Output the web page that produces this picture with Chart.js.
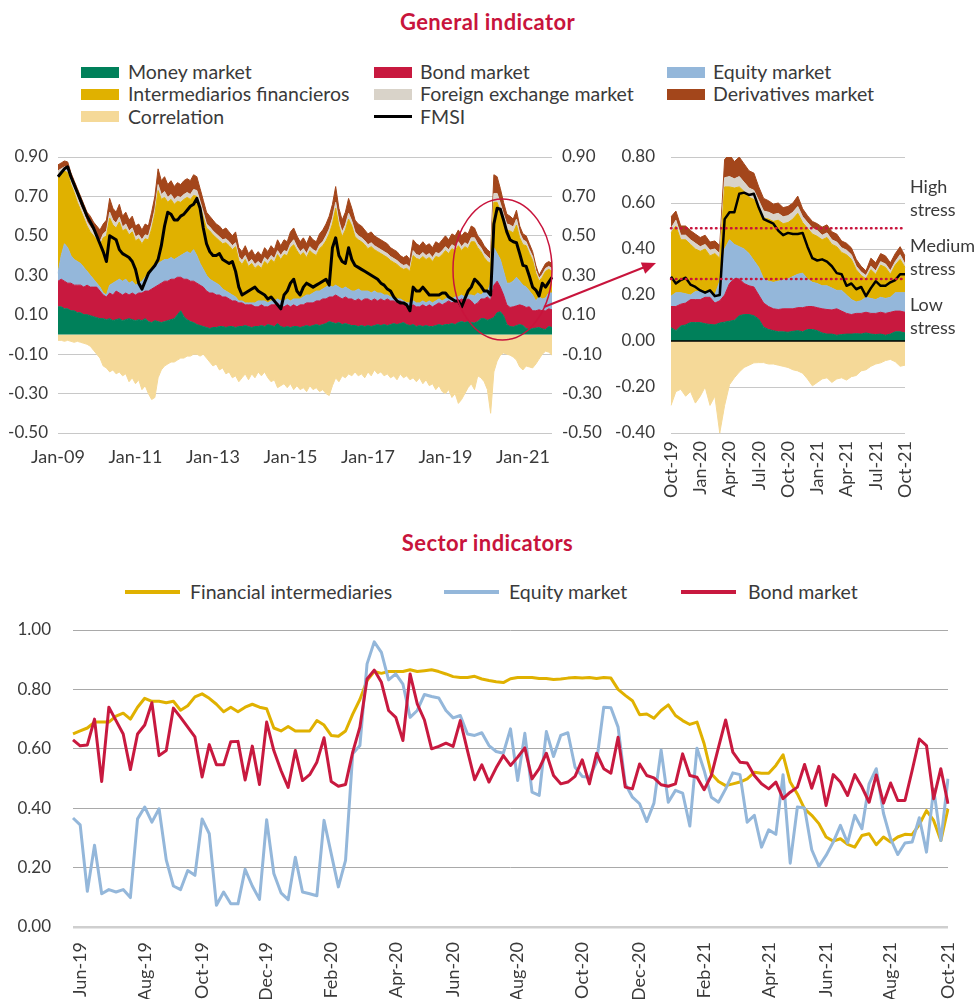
<!DOCTYPE html>
<html>
<head>
<meta charset="utf-8">
<script src="https://cdn.jsdelivr.net/npm/chart.js@4.4.1/dist/chart.umd.min.js"></script>
<style>
  html, body { margin:0; padding:0; background:#ffffff; }
  body { position:relative; width:975px; height:999px; overflow:hidden; font-family: Lato, "Noto Sans", sans-serif; color:#3a3a3a; }
  .title { position:absolute; left:0; width:975px; text-align:center; font-weight:700; font-size:22px; letter-spacing:0.4px; line-height:26px; color:#C8143C; }
  .leg { position:absolute; font-size:19.5px; line-height:22px; white-space:nowrap; color:#3a3a3a; }
  .sw { position:absolute; width:38px; height:11px; }
  .ln { position:absolute; height:3px; }
  .note { position:absolute; font-size:18px; line-height:22.5px; color:#3a3a3a; white-space:nowrap; }
  canvas { position:absolute; }
  svg { position:absolute; left:0; top:0; pointer-events:none; }
</style>
</head>
<body>
<div class="title" style="top:9px">General indicator</div>
<div class="sw" style="left:81px;top:67px;background:#00805A"></div><div class="leg" style="left:128px;top:61px">Money market</div>
<div class="sw" style="left:374px;top:67px;background:#C8193F"></div><div class="leg" style="left:420px;top:61px">Bond market</div>
<div class="sw" style="left:667px;top:67px;background:#94B7DA"></div><div class="leg" style="left:713px;top:61px">Equity market</div>
<div class="sw" style="left:81px;top:89px;background:#E0B100"></div><div class="leg" style="left:128px;top:83px">Intermediarios financieros</div>
<div class="sw" style="left:374px;top:89px;background:#D9D3C9"></div><div class="leg" style="left:420px;top:83px">Foreign exchange market</div>
<div class="sw" style="left:667px;top:89px;background:#A3461B"></div><div class="leg" style="left:713px;top:83px">Derivatives market</div>
<div class="sw" style="left:81px;top:111px;background:#F5D998"></div><div class="leg" style="left:128px;top:106px">Correlation</div>
<div class="ln" style="left:374px;top:115px;width:38px;background:#000"></div><div class="leg" style="left:420px;top:106px">FMSI</div>

<canvas id="cGeneral" width="610" height="340" style="left:0px;top:140px"></canvas>
<canvas id="cZoom" width="320" height="370" style="left:610px;top:140px"></canvas>

<div class="note" style="left:910px;top:175px">High<br>stress</div>
<div class="note" style="left:910px;top:234px">Medium<br>stress</div>
<div class="note" style="left:910px;top:293px">Low<br>stress</div>

<div class="title" style="top:530px">Sector indicators</div>
<div class="ln" style="left:125px;top:590px;width:55px;height:3.5px;background:#E0B100"></div><div class="leg" style="left:190px;top:581px">Financial intermediaries</div>
<div class="ln" style="left:444px;top:590px;width:55px;height:3.5px;background:#94B7DA"></div><div class="leg" style="left:509px;top:581px">Equity market</div>
<div class="ln" style="left:681px;top:590px;width:55px;height:3.5px;background:#C8193F"></div><div class="leg" style="left:748px;top:581px">Bond market</div>

<canvas id="cSector" width="975" height="384" style="left:0px;top:615px"></canvas>

<svg width="975" height="999" viewBox="0 0 975 999">
  <ellipse cx="502.5" cy="269.5" rx="49.5" ry="70.5" fill="none" stroke="#C8143C" stroke-width="1.5"/>
  <line x1="544" y1="307" x2="646" y2="266.5" stroke="#C8143C" stroke-width="2"/>
  <polygon points="656,263 645.2,273.8 640.8,262.6" fill="#C8143C"/>
</svg>

<script>
// ---------------- General indicator (monthly, Jan-09 .. Oct-21) ----------------
const generalXTicks = ['Jan-09','Jan-11','Jan-13','Jan-15','Jan-17','Jan-19','Jan-21'];
const generalYTicks = [-0.5,-0.3,-0.1,0.1,0.3,0.5,0.7,0.9];

const moneyMarket = [
0.14,0.14,0.13,0.13,0.12,0.12,0.11,0.11,0.10,0.10,
0.095,0.09,0.085,0.08,0.08,0.075,0.08,0.07,0.075,0.08,
0.07,0.075,0.08,0.075,0.07,0.075,0.07,0.08,0.065,0.06,
0.07,0.065,0.06,0.065,0.07,0.075,0.08,0.10,0.12,0.09,
0.075,0.065,0.06,0.05,0.045,0.04,0.035,0.03,0.035,0.035,
0.04,0.04,0.035,0.04,0.04,0.035,0.04,0.04,0.045,0.04,
0.035,0.04,0.04,0.045,0.04,0.05,0.045,0.04,0.055,0.04,
0.035,0.04,0.035,0.04,0.04,0.035,0.04,0.045,0.04,0.045,
0.05,0.045,0.05,0.055,0.065,0.06,0.055,0.06,0.05,0.055,
0.05,0.045,0.045,0.04,0.045,0.04,0.045,0.04,0.045,0.05,
0.045,0.05,0.045,0.05,0.055,0.05,0.055,0.06,0.05,0.045,
0.05,0.04,0.045,0.04,0.045,0.04,0.04,0.045,0.05,0.045,
0.05,0.05,0.055,0.05,0.06,0.065,0.06,0.065,0.06,0.058,
0.065,0.08,0.08,0.072,0.078,0.086,0.11,0.115,0.095,0.05,
0.04,0.038,0.045,0.05,0.045,0.03,0.025,0.03,0.032,0.035,
0.028,0.025,0.04,0.035];

const bondMarket = [
0.13,0.14,0.14,0.13,0.14,0.13,0.14,0.14,0.14,0.15,
0.145,0.15,0.155,0.14,0.12,0.115,0.13,0.13,0.145,0.13,
0.13,0.135,0.12,0.135,0.13,0.135,0.14,0.14,0.155,0.17,
0.17,0.185,0.20,0.205,0.20,0.205,0.20,0.19,0.17,0.19,
0.205,0.205,0.21,0.21,0.205,0.20,0.185,0.18,0.175,0.165,
0.16,0.15,0.155,0.14,0.13,0.135,0.12,0.12,0.105,0.11,
0.115,0.10,0.10,0.105,0.10,0.09,0.105,0.11,0.105,0.10,
0.105,0.11,0.105,0.11,0.10,0.115,0.11,0.115,0.12,0.115,
0.12,0.125,0.13,0.125,0.125,0.13,0.145,0.13,0.13,0.135,
0.13,0.135,0.125,0.14,0.125,0.14,0.135,0.13,0.135,0.12,
0.135,0.12,0.135,0.12,0.115,0.11,0.115,0.10,0.10,0.095,
0.10,0.10,0.095,0.11,0.095,0.11,0.10,0.105,0.11,0.105,
0.11,0.12,0.105,0.12,0.11,0.115,0.11,0.115,0.11,0.092,
0.095,0.10,0.10,0.118,0.097,0.164,0.16,0.125,0.105,0.10,
0.097,0.102,0.10,0.10,0.10,0.107,0.115,0.09,0.088,0.09,
0.092,0.095,0.09,0.09];

const equityMarket = [
0.04,0.12,0.19,0.18,0.14,0.13,0.12,0.11,0.10,0.07,
0.06,0.04,0.02,0.02,0.01,0.01,0.04,0.06,0.05,0.07,
0.07,0.07,0.06,0.06,0.05,0.05,0.06,0.07,0.09,0.10,
0.10,0.11,0.11,0.11,0.11,0.11,0.10,0.10,0.11,0.13,
0.14,0.14,0.16,0.14,0.11,0.09,0.08,0.07,0.06,0.06,
0.05,0.04,0.03,0.03,0.03,0.02,0.01,0.01,0.01,0.01,
0.01,0.02,0.03,0.02,0.03,0.02,0.02,0.02,0.02,0.03,
0.03,0.03,0.03,0.03,0.04,0.03,0.04,0.04,0.04,0.05,
0.05,0.05,0.05,0.06,0.06,0.05,0.05,0.05,0.05,0.05,
0.05,0.04,0.05,0.05,0.05,0.04,0.04,0.04,0.04,0.04,
0.03,0.03,0.02,0.02,0.02,0.02,0.01,0.01,0.01,0.02,
0.02,0.02,0.02,0.02,0.02,0.02,0.02,0.02,0.02,0.02,
0.02,0.02,0.02,0.02,0.02,0.02,0.02,0.02,0.03,0.045,
0.05,0.02,0.036,0.025,0.085,0.19,0.14,0.14,0.12,0.11,
0.123,0.13,0.145,0.12,0.105,0.103,0.08,0.08,0.05,0.065,
0.06,0.065,0.08,0.085];

const intermediaries = [
0.50,0.42,0.37,0.38,0.36,0.34,0.30,0.27,0.25,0.23,
0.22,0.22,0.22,0.21,0.28,0.30,0.34,0.295,0.27,0.29,
0.255,0.255,0.245,0.25,0.225,0.225,0.19,0.195,0.17,0.205,
0.27,0.37,0.315,0.315,0.29,0.295,0.28,0.285,0.27,0.275,
0.275,0.275,0.275,0.30,0.29,0.265,0.24,0.245,0.235,0.23,
0.225,0.23,0.245,0.24,0.23,0.255,0.205,0.185,0.22,0.185,
0.20,0.175,0.18,0.165,0.20,0.195,0.21,0.195,0.225,0.21,
0.235,0.22,0.27,0.275,0.245,0.22,0.225,0.19,0.225,0.20,
0.18,0.215,0.22,0.235,0.26,0.32,0.39,0.31,0.265,0.29,
0.355,0.33,0.275,0.25,0.25,0.235,0.215,0.235,0.21,0.21,
0.20,0.20,0.19,0.185,0.175,0.175,0.16,0.16,0.175,0.16,
0.23,0.225,0.22,0.225,0.22,0.22,0.21,0.225,0.21,0.235,
0.245,0.22,0.255,0.235,0.26,0.225,0.255,0.235,0.27,0.275,
0.23,0.22,0.174,0.155,0.10,0.23,0.26,0.245,0.255,0.27,
0.265,0.245,0.265,0.22,0.205,0.21,0.19,0.175,0.14,0.08,
0.11,0.135,0.12,0.11];

const foreignExchange = [
0.02,0.02,0.02,0.02,0.02,0.02,0.025,0.02,0.025,0.02,
0.025,0.02,0.02,0.02,0.02,0.025,0.03,0.025,0.025,0.025,
0.02,0.025,0.02,0.02,0.02,0.02,0.02,0.02,0.02,0.025,
0.025,0.03,0.025,0.03,0.025,0.025,0.025,0.025,0.025,0.025,
0.025,0.025,0.03,0.03,0.025,0.025,0.02,0.02,0.02,0.02,
0.02,0.02,0.02,0.02,0.02,0.02,0.02,0.02,0.02,0.02,
0.02,0.02,0.02,0.02,0.02,0.02,0.02,0.02,0.02,0.02,
0.02,0.02,0.02,0.025,0.02,0.02,0.02,0.02,0.02,0.02,
0.02,0.02,0.02,0.025,0.025,0.03,0.03,0.025,0.025,0.025,
0.03,0.025,0.025,0.02,0.02,0.02,0.02,0.02,0.02,0.02,
0.02,0.02,0.02,0.02,0.02,0.02,0.02,0.02,0.02,0.02,
0.025,0.02,0.02,0.02,0.02,0.02,0.02,0.02,0.02,0.02,
0.02,0.02,0.02,0.02,0.02,0.02,0.02,0.02,0.02,0.02,
0.02,0.02,0.02,0.025,0.02,0.045,0.045,0.04,0.035,0.03,
0.03,0.03,0.03,0.025,0.025,0.02,0.02,0.02,0.015,0.015,
0.015,0.015,0.015,0.015];

const derivatives = [
0.03,0.03,0.03,0.035,0.04,0.04,0.045,0.05,0.045,0.05,
0.055,0.05,0.05,0.06,0.05,0.055,0.07,0.06,0.055,0.065,
0.055,0.06,0.055,0.06,0.055,0.055,0.05,0.055,0.05,0.06,
0.065,0.08,0.07,0.075,0.065,0.07,0.065,0.07,0.065,0.07,
0.07,0.07,0.075,0.07,0.065,0.06,0.06,0.055,0.055,0.05,
0.055,0.05,0.055,0.05,0.05,0.055,0.045,0.045,0.05,0.045,
0.05,0.045,0.05,0.045,0.05,0.045,0.05,0.045,0.055,0.05,
0.055,0.05,0.06,0.06,0.055,0.05,0.055,0.05,0.055,0.05,
0.05,0.055,0.06,0.06,0.065,0.07,0.08,0.065,0.06,0.065,
0.075,0.065,0.06,0.06,0.06,0.055,0.055,0.055,0.05,0.05,
0.05,0.05,0.05,0.045,0.045,0.045,0.04,0.04,0.045,0.04,
0.055,0.055,0.05,0.055,0.05,0.05,0.05,0.055,0.05,0.055,
0.055,0.05,0.055,0.055,0.06,0.055,0.055,0.055,0.06,0.05,
0.04,0.04,0.04,0.035,0.035,0.095,0.085,0.075,0.06,0.05,
0.045,0.04,0.045,0.035,0.03,0.03,0.03,0.025,0.025,0.015,
0.025,0.025,0.025,0.025];

const correlation = [
-0.03,-0.03,-0.035,-0.03,-0.035,-0.04,-0.035,-0.04,-0.045,-0.05,
-0.06,-0.08,-0.10,-0.12,-0.16,-0.17,-0.19,-0.18,-0.20,-0.19,
-0.21,-0.20,-0.24,-0.22,-0.25,-0.23,-0.28,-0.26,-0.30,-0.33,
-0.32,-0.22,-0.18,-0.16,-0.15,-0.14,-0.14,-0.13,-0.12,-0.12,
-0.11,-0.11,-0.10,-0.10,-0.11,-0.10,-0.12,-0.14,-0.16,-0.15,
-0.18,-0.17,-0.20,-0.19,-0.22,-0.21,-0.24,-0.22,-0.20,-0.23,
-0.20,-0.22,-0.19,-0.21,-0.19,-0.22,-0.24,-0.23,-0.27,-0.26,
-0.25,-0.27,-0.25,-0.28,-0.26,-0.28,-0.27,-0.29,-0.26,-0.28,
-0.27,-0.29,-0.28,-0.30,-0.31,-0.26,-0.22,-0.24,-0.21,-0.22,
-0.20,-0.21,-0.19,-0.21,-0.20,-0.22,-0.19,-0.21,-0.18,-0.20,
-0.19,-0.21,-0.20,-0.22,-0.21,-0.23,-0.20,-0.22,-0.21,-0.23,
-0.22,-0.24,-0.22,-0.25,-0.23,-0.26,-0.25,-0.28,-0.26,-0.29,
-0.30,-0.28,-0.32,-0.30,-0.35,-0.33,-0.30,-0.27,-0.25,-0.28,
-0.21,-0.22,-0.24,-0.28,-0.40,-0.19,-0.135,-0.105,-0.094,-0.10,
-0.105,-0.115,-0.13,-0.165,-0.18,-0.16,-0.165,-0.17,-0.15,-0.125,
-0.10,-0.085,-0.09,-0.105];

const fmsi = [
0.80,0.82,0.84,0.85,0.80,0.76,0.72,0.68,0.64,0.60,
0.57,0.54,0.50,0.46,0.42,0.37,0.50,0.49,0.48,0.43,
0.41,0.40,0.39,0.37,0.33,0.26,0.23,0.27,0.31,0.33,
0.35,0.38,0.45,0.55,0.62,0.61,0.58,0.58,0.60,0.61,
0.63,0.65,0.66,0.69,0.64,0.54,0.46,0.42,0.40,0.40,
0.41,0.38,0.37,0.36,0.37,0.32,0.24,0.20,0.21,0.22,
0.23,0.24,0.22,0.21,0.20,0.18,0.19,0.17,0.15,0.13,
0.20,0.22,0.26,0.28,0.22,0.20,0.24,0.26,0.25,0.24,
0.25,0.26,0.27,0.28,0.25,0.44,0.49,0.40,0.37,0.36,
0.44,0.38,0.35,0.34,0.33,0.32,0.31,0.30,0.29,0.28,
0.26,0.25,0.23,0.22,0.19,0.17,0.16,0.16,0.15,0.12,
0.24,0.22,0.22,0.24,0.22,0.20,0.20,0.20,0.20,0.21,
0.21,0.19,0.18,0.17,0.17,0.14,0.18,0.22,0.24,0.28,
0.265,0.245,0.22,0.22,0.20,0.56,0.64,0.635,0.58,0.52,
0.48,0.47,0.465,0.41,0.35,0.345,0.295,0.24,0.225,0.195,
0.26,0.24,0.265,0.29];

// ---------------- Zoom Oct-19 .. Oct-21 (half-monthly) ----------------
const zoomXTicks = ['Oct-19','Jan-20','Apr-20','Jul-20','Oct-20','Jan-21','Apr-21','Jul-21','Oct-21'];
const zoomYTicks = [-0.4,-0.2,0,0.2,0.4,0.6,0.8];
const stressThresholds = [0.27, 0.49];

const zMoney = [0.058,0.045,0.065,0.07,0.08,0.08,0.08,0.075,0.072,0.07,0.078,0.082,0.086,0.09,0.11,0.115,0.115,0.11,0.095,0.06,0.05,0.045,0.04,0.04,0.038,0.042,0.045,0.04,0.05,0.05,0.045,0.035,0.03,0.03,0.025,0.028,0.03,0.03,0.032,0.03,0.035,0.03,0.028,0.03,0.025,0.03,0.04,0.04,0.035];
const zBond = [0.092,0.105,0.095,0.095,0.10,0.10,0.10,0.115,0.118,0.095,0.097,0.118,0.164,0.18,0.16,0.135,0.125,0.125,0.105,0.105,0.10,0.095,0.097,0.10,0.102,0.098,0.10,0.105,0.10,0.10,0.10,0.105,0.107,0.105,0.115,0.102,0.09,0.085,0.088,0.09,0.09,0.09,0.092,0.095,0.095,0.095,0.09,0.09,0.09];
const zEquity = [0.045,0.06,0.05,0.04,0.02,0.035,0.036,0.025,0.025,0.035,0.085,0.20,0.19,0.15,0.14,0.15,0.14,0.115,0.12,0.105,0.11,0.115,0.123,0.125,0.13,0.14,0.145,0.15,0.12,0.105,0.105,0.10,0.103,0.095,0.08,0.09,0.08,0.065,0.05,0.055,0.065,0.065,0.06,0.065,0.065,0.065,0.08,0.08,0.085];
const zInter = [0.275,0.29,0.23,0.235,0.22,0.185,0.174,0.185,0.155,0.18,0.10,0.27,0.23,0.245,0.26,0.25,0.245,0.265,0.255,0.265,0.27,0.265,0.265,0.245,0.245,0.25,0.265,0.22,0.22,0.21,0.205,0.20,0.21,0.19,0.19,0.165,0.175,0.175,0.14,0.11,0.08,0.125,0.11,0.14,0.135,0.10,0.12,0.145,0.11];
const zFX = [0.02,0.025,0.02,0.02,0.02,0.025,0.02,0.02,0.025,0.02,0.02,0.04,0.045,0.04,0.045,0.04,0.04,0.04,0.035,0.03,0.03,0.03,0.03,0.03,0.03,0.03,0.03,0.025,0.025,0.025,0.025,0.02,0.02,0.02,0.02,0.02,0.02,0.02,0.015,0.015,0.015,0.015,0.015,0.015,0.015,0.015,0.015,0.02,0.015];
const zDeriv = [0.05,0.04,0.04,0.04,0.04,0.04,0.04,0.04,0.035,0.035,0.035,0.08,0.095,0.075,0.085,0.08,0.075,0.075,0.06,0.055,0.05,0.045,0.045,0.04,0.04,0.04,0.045,0.035,0.03,0.03,0.03,0.035,0.035,0.035,0.035,0.03,0.03,0.03,0.03,0.025,0.02,0.035,0.035,0.035,0.035,0.035,0.035,0.035,0.035];
const zCorr = [-0.28,-0.22,-0.21,-0.24,-0.22,-0.27,-0.24,-0.20,-0.28,-0.24,-0.40,-0.28,-0.19,-0.16,-0.135,-0.115,-0.105,-0.095,-0.094,-0.094,-0.10,-0.10,-0.105,-0.11,-0.115,-0.125,-0.13,-0.14,-0.165,-0.195,-0.18,-0.165,-0.16,-0.18,-0.165,-0.16,-0.17,-0.155,-0.15,-0.13,-0.125,-0.11,-0.10,-0.095,-0.085,-0.08,-0.09,-0.11,-0.105];
const zFMSI = [0.28,0.25,0.265,0.275,0.245,0.235,0.22,0.21,0.22,0.195,0.20,0.53,0.56,0.56,0.64,0.645,0.635,0.64,0.58,0.53,0.52,0.51,0.48,0.46,0.47,0.465,0.465,0.47,0.41,0.36,0.35,0.355,0.345,0.325,0.295,0.29,0.24,0.25,0.225,0.235,0.195,0.23,0.26,0.24,0.24,0.255,0.265,0.29,0.29];

// ---------------- Sector indicators (weekly) ----------------
const sectorXTicks = ['Jun-19','Aug-19','Oct-19','Dec-19','Feb-20','Apr-20','Jun-20','Aug-20','Oct-20','Dec-20','Feb-21','Apr-21','Jun-21','Aug-21','Oct-21'];
const sectorYTicks = [0,0.2,0.4,0.6,0.8,1.0];

const sectorFinancial = [
0.65,0.66,0.67,0.69,0.69,0.69,0.71,0.72,0.70,0.74,
0.77,0.76,0.76,0.755,0.76,0.73,0.745,0.775,0.785,0.77,
0.75,0.725,0.74,0.725,0.74,0.75,0.74,0.735,0.67,0.66,
0.675,0.66,0.66,0.66,0.695,0.68,0.645,0.642,0.66,0.717,
0.766,0.83,0.86,0.854,0.86,0.86,0.86,0.866,0.86,0.863,
0.866,0.86,0.852,0.843,0.84,0.84,0.844,0.835,0.83,0.826,
0.823,0.836,0.84,0.84,0.84,0.837,0.837,0.833,0.835,0.838,
0.84,0.838,0.84,0.837,0.84,0.838,0.80,0.78,0.762,0.715,
0.717,0.703,0.729,0.748,0.712,0.695,0.682,0.69,0.617,0.516,
0.49,0.476,0.482,0.488,0.499,0.521,0.518,0.518,0.544,0.58,
0.488,0.448,0.398,0.376,0.348,0.303,0.289,0.297,0.278,0.269,
0.308,0.314,0.277,0.303,0.286,0.303,0.312,0.311,0.345,0.392,
0.359,0.291,0.398];

const sectorEquity = [
0.367,0.344,0.12,0.275,0.112,0.126,0.118,0.126,0.099,0.364,
0.404,0.353,0.398,0.226,0.138,0.126,0.19,0.174,0.364,0.314,
0.073,0.118,0.078,0.078,0.194,0.138,0.093,0.361,0.18,0.115,
0.092,0.235,0.118,0.112,0.105,0.359,0.247,0.135,0.224,0.583,
0.611,0.886,0.96,0.925,0.832,0.852,0.818,0.706,0.729,0.783,
0.776,0.771,0.729,0.704,0.712,0.65,0.645,0.654,0.611,0.591,
0.585,0.667,0.493,0.652,0.454,0.443,0.658,0.574,0.645,0.654,
0.538,0.507,0.504,0.555,0.74,0.738,0.673,0.482,0.437,0.415,
0.355,0.417,0.596,0.42,0.46,0.451,0.34,0.602,0.527,0.437,
0.42,0.465,0.519,0.513,0.353,0.376,0.269,0.327,0.312,0.513,
0.215,0.404,0.401,0.26,0.204,0.241,0.286,0.342,0.283,0.376,
0.331,0.482,0.533,0.383,0.297,0.244,0.283,0.286,0.368,0.252,
0.465,0.291,0.499];

const sectorBond = [
0.63,0.61,0.613,0.70,0.49,0.74,0.695,0.65,0.53,0.65,
0.68,0.755,0.577,0.594,0.737,0.706,0.673,0.64,0.505,0.614,
0.546,0.546,0.624,0.625,0.495,0.609,0.48,0.69,0.594,0.527,
0.47,0.594,0.493,0.513,0.555,0.637,0.49,0.474,0.48,0.589,
0.673,0.835,0.865,0.824,0.729,0.706,0.628,0.852,0.751,0.697,
0.60,0.608,0.619,0.608,0.695,0.594,0.496,0.546,0.488,0.536,
0.577,0.544,0.572,0.603,0.499,0.533,0.585,0.51,0.482,0.488,
0.507,0.563,0.482,0.585,0.533,0.518,0.639,0.471,0.465,0.549,
0.51,0.502,0.479,0.474,0.482,0.583,0.51,0.504,0.462,0.51,
0.605,0.697,0.589,0.555,0.552,0.51,0.482,0.465,0.488,0.432,
0.454,0.471,0.547,0.467,0.541,0.409,0.513,0.488,0.443,0.513,
0.471,0.42,0.512,0.417,0.485,0.426,0.426,0.527,0.633,0.611,
0.432,0.533,0.415];

// ---------------- categories ----------------
const MON = ['Jan','Feb','Mar','Apr','May','Jun','Jul','Aug','Sep','Oct','Nov','Dec'];
const monLabel = (y, m) => MON[m] + '-' + String(y % 100).padStart(2, '0');

const generalMonths = moneyMarket.map((_, i) => monLabel(2009 + Math.floor(i / 12), i % 12));
const zoomDates = zMoney.map((_, j) => {
  const k = 9 + Math.floor(j / 2);
  const lbl = monLabel(2019 + Math.floor(k / 12), k % 12);
  return j % 2 === 0 ? lbl : 'mid ' + lbl;
});
const DAY = 86400000;
const sectorStart = Date.UTC(2019, 4, 25);
const sectorWeeks = sectorFinancial.map((_, i) => new Date(sectorStart + i * 7 * DAY).toISOString().slice(0, 10));
const sectorTickAt = {};
sectorXTicks.forEach(lbl => {
  const m = MON.indexOf(lbl.slice(0, 3)), y = 2000 + parseInt(lbl.slice(4), 10);
  const target = Date.UTC(y, m, 1);
  let best = 0, bd = Infinity;
  sectorWeeks.forEach((d, i) => { const dd = Math.abs(Date.parse(d) - target); if (dd < bd) { bd = dd; best = i; } });
  sectorTickAt[best] = lbl;
});

// ---------------- Chart setup ----------------
const FONT = 'Lato, "Noto Sans", sans-serif';
Chart.defaults.font.family = FONT;
Chart.defaults.font.size = 17;
Chart.defaults.color = '#3a3a3a';

const C = {
  money:'#00805A', bond:'#C8193F', equity:'#94B7DA', inter:'#E0B100',
  fx:'#D9D3C9', deriv:'#A3461B', corr:'#F5D998', fmsi:'#000000', crimson:'#C8143C'
};

function area(label, data, color, fill) {
  return { label, data, stack:'components', fill, backgroundColor:color, borderColor:color,
           borderWidth:1, pointRadius:0, tension:0 };
}
const fmt2 = v => Number(v).toFixed(2);
// fix axis box sizes and drop automatic label-overflow padding
const fixBox = (w, h) => s => {
  if (w !== null) s.width = w;
  if (h !== null) s.height = h;
  s.paddingTop = 0; s.paddingBottom = 0; s.paddingLeft = 0; s.paddingRight = 0;
};
const baseOpts = {
  responsive:false, animation:false, devicePixelRatio:1,
  plugins:{ legend:{display:false}, tooltip:{enabled:false} },
  elements:{ line:{ borderJoinStyle:'round' } }
};
const xFont = { family:FONT, size:18 };

// General indicator
new Chart(document.getElementById('cGeneral'), {
  type:'line',
  data:{ labels: generalMonths, datasets:[
    area('Money market', moneyMarket, C.money, 'origin'),
    area('Bond market', bondMarket, C.bond, '-1'),
    area('Equity market', equityMarket, C.equity, '-1'),
    area('Intermediarios financieros', intermediaries, C.inter, '-1'),
    area('Foreign exchange market', foreignExchange, C.fx, '-1'),
    area('Derivatives market', derivatives, C.deriv, '-1'),
    { label:'Correlation', data:correlation, stack:'corr', fill:'origin', backgroundColor:C.corr, borderColor:C.corr, borderWidth:1, pointRadius:0, tension:0 },
    { label:'FMSI', data:fmsi, stack:'fmsi', fill:false, borderColor:C.fmsi, borderWidth:3, pointRadius:0, tension:0, order:-1 }
  ]},
  options:{ ...baseOpts,
    layout:{ padding:{ top:17, left:0, right:0, bottom:0 } },
    scales:{
      x:{ type:'category', offset:false, grid:{display:false, drawTicks:false}, border:{display:false},
          ticks:{ autoSkip:false, maxRotation:0, minRotation:0, padding:13, font:xFont,
                  callback:function(v){ const l = this.getLabelForValue(v); return generalXTicks.includes(l) ? l : ''; } },
          afterFit:fixBox(null, 47) },
      y:{ stacked:true, min:-0.5, max:0.9, position:'left',
          afterBuildTicks:s => { s.ticks = generalYTicks.map(v => ({value:v})); },
          grid:{ color:'#c8c8c8', lineWidth:1, drawTicks:false }, border:{display:false},
          ticks:{ padding:10, callback:fmt2 }, afterFit:fixBox(58, null) },
      y2:{ min:-0.5, max:0.9, position:'right',
          afterBuildTicks:s => { s.ticks = generalYTicks.map(v => ({value:v})); },
          grid:{ display:false, drawTicks:false }, border:{display:false},
          ticks:{ padding:10, callback:fmt2 }, afterFit:fixBox(58, null) }
    }
  }
});

// Zoom chart
const stressPlugin = {
  id:'stressLines',
  afterDatasetsDraw(chart){
    const { ctx, chartArea:a, scales:{ y } } = chart;
    ctx.save();
    ctx.strokeStyle = '#000'; ctx.lineWidth = 1.5;
    const y0 = y.getPixelForValue(0);
    ctx.beginPath(); ctx.moveTo(a.left, y0); ctx.lineTo(a.right, y0); ctx.stroke();
    ctx.strokeStyle = C.crimson; ctx.lineWidth = 2.5; ctx.lineCap = 'round'; ctx.setLineDash([0.5, 4.5]);
    stressThresholds.forEach(v => {
      const py = y.getPixelForValue(v);
      ctx.beginPath(); ctx.moveTo(a.left, py); ctx.lineTo(a.right, py); ctx.stroke();
    });
    ctx.restore();
  }
};
new Chart(document.getElementById('cZoom'), {
  type:'line',
  data:{ labels: zoomDates, datasets:[
    area('Money market', zMoney, C.money, 'origin'),
    area('Bond market', zBond, C.bond, '-1'),
    area('Equity market', zEquity, C.equity, '-1'),
    area('Intermediarios financieros', zInter, C.inter, '-1'),
    area('Foreign exchange market', zFX, C.fx, '-1'),
    area('Derivatives market', zDeriv, C.deriv, '-1'),
    { label:'Correlation', data:zCorr, stack:'corr', fill:'origin', backgroundColor:C.corr, borderColor:C.corr, borderWidth:1, pointRadius:0, tension:0 },
    { label:'FMSI', data:zFMSI, stack:'fmsi', fill:false, borderColor:C.fmsi, borderWidth:2.5, pointRadius:0, tension:0, order:-1 }
  ]},
  options:{ ...baseOpts,
    layout:{ padding:{ top:17, left:0, right:25, bottom:0 } },
    scales:{
      x:{ type:'category', offset:false, grid:{display:false, drawTicks:false}, border:{display:false},
          ticks:{ autoSkip:false, maxRotation:90, minRotation:90, padding:8, font:xFont,
                  callback:function(v){ const l = this.getLabelForValue(v); return zoomXTicks.includes(l) ? l : ''; } },
          afterFit:fixBox(null, 77) },
      y:{ stacked:true, min:-0.4, max:0.8,
          afterBuildTicks:s => { s.ticks = zoomYTicks.map(v => ({value:v})); },
          grid:{ color:'#c8c8c8', lineWidth:1, drawTicks:false }, border:{display:false},
          ticks:{ padding:16, callback:fmt2 }, afterFit:fixBox(61, null) }
    }
  },
  plugins:[stressPlugin]
});

// Sector indicators
function lineDs(label, data, color, order) {
  return { label, data, borderColor:color, backgroundColor:color, borderWidth:3, pointRadius:0, tension:0, fill:false, order };
}
new Chart(document.getElementById('cSector'), {
  type:'line',
  data:{ labels: sectorWeeks, datasets:[
    lineDs('Financial intermediaries', sectorFinancial, C.inter, 2),
    lineDs('Equity market', sectorEquity, C.equity, 1),
    lineDs('Bond market', sectorBond, C.bond, 0)
  ]},
  options:{ ...baseOpts,
    layout:{ padding:{ top:15, left:0, right:27, bottom:0 } },
    scales:{
      x:{ type:'category', offset:false, grid:{display:false, drawTicks:false}, border:{display:false},
          ticks:{ autoSkip:false, maxRotation:90, minRotation:90, padding:15, font:xFont,
                  callback:(v, i) => sectorTickAt[i] || '' },
          afterFit:fixBox(null, 72) },
      y:{ min:0, max:1,
          afterBuildTicks:s => { s.ticks = sectorYTicks.map(v => ({value:v})); },
          grid:{ color:c => c.tick && c.tick.value === 0 ? '#cfcfcf' : '#a9a9a9',
                 lineWidth:c => c.tick && c.tick.value === 0 ? 2.5 : 1, drawTicks:false },
          border:{display:false},
          ticks:{ padding:22, callback:fmt2 }, afterFit:fixBox(73, null) }
    }
  }
});
</script>
</body>
</html>
